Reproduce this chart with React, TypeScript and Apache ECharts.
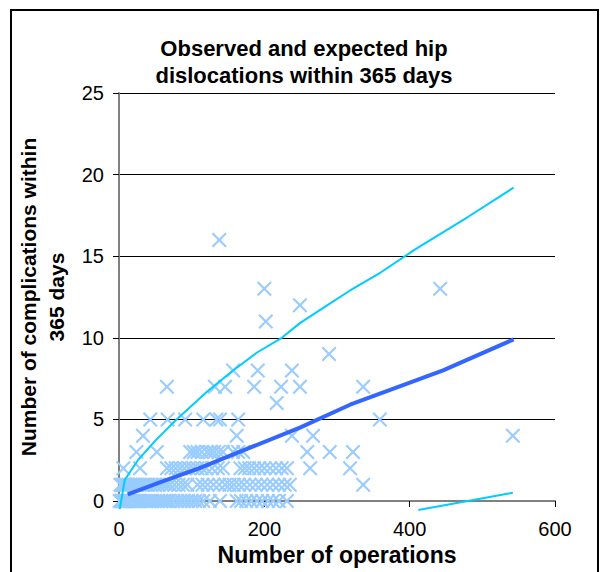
import React, { useEffect, useRef } from "react";
import * as echarts from "echarts";

// Observed: number of operations for each hospital, grouped by observed dislocation count
const obsCount0 = [1, 2, 3, 4, 5, 6, 7, 8, 9, 10, 12, 14, 16, 18, 20, 22, 24, 26, 28, 30, 33, 36, 40, 43, 46, 50, 54, 58, 62, 66, 70, 75, 80, 85, 90, 95, 100, 105, 110, 116, 125, 139, 162, 168, 175, 182, 190, 197, 205, 212, 220, 231];
const obsCount1 = [2, 4, 6, 8, 10, 13, 16, 19, 22, 25, 28, 32, 36, 40, 45, 50, 55, 60, 65, 70, 76, 82, 88, 94, 108, 115, 122, 130, 138, 146, 152, 158, 165, 172, 180, 188, 196, 204, 212, 220, 228, 235, 336];
const obsCount2 = [6, 29, 66, 72, 78, 84, 90, 96, 102, 108, 114, 120, 128, 136, 143, 167, 173, 179, 186, 193, 200, 208, 216, 224, 231, 263, 318];
const obsCount3 = [24, 52, 98, 103, 108, 114, 121, 126, 131, 137, 143, 157, 164, 171, 259, 290, 322];
const obsCount4 = [33, 162, 238, 267, 542];
const obsCount5 = [43, 67, 91, 116, 134, 139, 164, 359];
const obsCount6 = [217];
const obsCount7 = [66, 132, 146, 186, 223, 249, 336];
const obsCount8 = [157, 191, 238];
const obsCount9 = [289];
const obsCount11 = [202];
const obsCount12 = [249];
const obsCount13 = [200, 442];
const obsCount16 = [138];

const observedGroups: [number, number[]][] = [
  [0, obsCount0], [1, obsCount1], [2, obsCount2], [3, obsCount3], [4, obsCount4],
  [5, obsCount5], [6, obsCount6], [7, obsCount7], [8, obsCount8], [9, obsCount9],
  [11, obsCount11], [12, obsCount12], [13, obsCount13], [16, obsCount16],
];

// Expected line
const expectedOps = [12, 60, 110, 171, 249, 318, 446, 543];
const expectedVals = [0.4, 1.2, 2.0, 3.1, 4.5, 5.9, 8.0, 9.9];

// Upper limit
const upperOps = [1, 8, 26, 50, 77, 121, 157, 190, 224, 249, 280, 318, 360, 407, 480, 543];
const upperVals = [-0.5, 1.3, 2.5, 3.7, 4.9, 6.7, 8.0, 9.1, 10.0, 10.9, 11.8, 12.9, 14.0, 15.4, 17.4, 19.2];

// Lower limit
const lowerOps = [412, 480, 542];
const lowerVals = [-0.55, 0.0, 0.5];

const xTicks = { min: 0, max: 600, interval: 200 };
const yTicks = { min: 0, max: 25, interval: 5 };

const FONT = "'Liberation Sans', Arial, sans-serif";
const X_SYMBOL = "path://M0,1L1,0L5,4L9,0L10,1L6,5L10,9L9,10L5,6L1,10L0,9L4,5Z";

export default function App() {
  const ref = useRef<HTMLDivElement>(null);
  useEffect(() => {
    if (!ref.current) return;
    const chart = echarts.init(ref.current, null, { renderer: "svg" });
    const observed: number[][] = [];
    observedGroups.forEach(([c, xs]) => xs.forEach((x) => observed.push([x, c])));
    const zip = (a: number[], b: number[]) => a.map((v, i) => [v, b[i]]);
    chart.setOption({
      animation: false,
      backgroundColor: "#ffffff",
      title: {
        text: "Observed and expected hip\ndislocations within 365 days",
        left: 299,
        top: 30,
        textAlign: "center",
        textStyle: { fontFamily: FONT, fontWeight: "bold", fontSize: 22, lineHeight: 27, color: "#000" },
      },
      grid: { left: 119, right: 50, top: 93, bottom: 71 },
      xAxis: {
        type: "value",
        ...xTicks,
        name: "Number of operations",
        nameLocation: "middle",
        nameGap: 38,
        nameTextStyle: { fontFamily: FONT, fontWeight: "bold", fontSize: 23, color: "#000" },
        axisLine: { show: true, onZero: false, lineStyle: { color: "#808080", width: 2 } },
        axisTick: { show: true, length: 6, lineStyle: { color: "#000", width: 1 } },
        axisLabel: { fontFamily: FONT, fontSize: 20, color: "#000", margin: 18 },
        splitLine: { show: false },
      },
      yAxis: {
        type: "value",
        ...yTicks,
        name: "Number of complications within\n365 days",
        nameLocation: "middle",
        nameRotate: 90,
        nameGap: 47,
        nameTextStyle: { fontFamily: FONT, fontWeight: "bold", fontSize: 21, lineHeight: 28, color: "#000" },
        axisLine: { show: true, onZero: false, lineStyle: { color: "#808080", width: 2 } },
        axisTick: { show: true, length: 6, lineStyle: { color: "#000", width: 1 } },
        axisLabel: { fontFamily: FONT, fontSize: 20, color: "#000", margin: 15 },
        splitLine: { show: true, lineStyle: { color: "#000", width: 1 } },
      },
      graphic: [
        {
          type: "rect",
          shape: { x: 11, y: 10, width: 587, height: 575 },
          style: { fill: "none", stroke: "#000", lineWidth: 2 },
          silent: true,
        },
      ],
      series: [
        {
          name: "Observed",
          type: "scatter",
          data: observed,
          symbol: X_SYMBOL,
          symbolSize: 15,
          clip: false,
          itemStyle: { color: "#99CCFF", opacity: 1 },
        },
        {
          name: "Expected",
          type: "line",
          data: zip(expectedOps, expectedVals),
          showSymbol: false,
          symbol: "none",
          clip: false,
          lineStyle: { color: "#3366FF", width: 4 },
        },
        {
          name: "Upper",
          type: "line",
          data: zip(upperOps, upperVals),
          showSymbol: false,
          symbol: "none",
          clip: false,
          lineStyle: { color: "#00CCFF", width: 2 },
        },
        {
          name: "Lower",
          type: "line",
          data: zip(lowerOps, lowerVals),
          showSymbol: false,
          symbol: "none",
          clip: false,
          lineStyle: { color: "#00CCFF", width: 2 },
        },
      ],
    });
    return () => chart.dispose();
  }, []);
  return (
    <div
      ref={ref}
      style={{ position: "fixed", left: 0, top: 0, width: 605, height: 572, background: "#fff" }}
    />
  );
}
